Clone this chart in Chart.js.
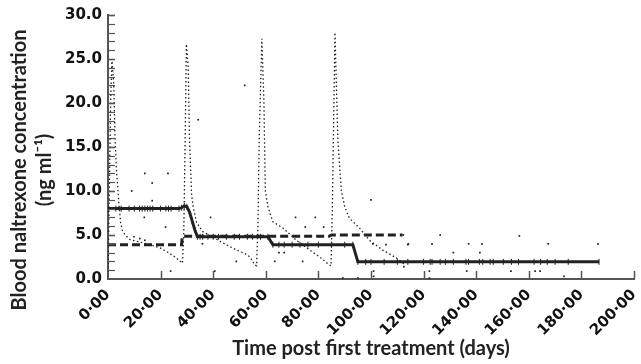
<!DOCTYPE html>
<html>
<head>
<meta charset="utf-8">
<style>
  html, body { margin: 0; padding: 0; background: #fff; }
  #wrap { width: 641px; height: 364px; }
</style>
</head>
<body>
<div id="wrap"><canvas id="chart"></canvas></div>
<script src="https://cdn.jsdelivr.net/npm/chart.js@4/dist/chart.umd.min.js"></script>
<script>
'use strict';

/* ── Data ── */

// solid line (fitted concentration)
const solidDays = [0, 3, 5, 8, 10, 12, 13, 14, 15, 16, 17, 20, 22, 23, 24, 27,
  28, 29, 30, 31, 32, 33, 34,
  35, 36, 38, 40, 42, 45, 48, 50, 53, 55, 58, 60.8,
  62.7, 65, 67, 70, 73, 76, 80, 85, 90, 93.1,
  95, 98, 100, 105, 110, 114, 120, 122.5, 123.2, 126.3, 128.3, 131.3, 136.1, 137.1,
  141.2, 142.5, 145.3, 146.5, 150.3, 153.4, 156.1, 162, 164.5, 167, 170, 175, 186.7];
const solidConc = [8.0, 8.0, 8.0, 8.0, 8.0, 8.0, 8.0, 8.0, 8.0, 8.0, 8.0, 8.0, 8.0, 8.0, 8.0, 8.0,
  8.1, 8.3, 8.2, 7.6, 6.6, 5.6, 4.8,
  4.8, 4.8, 4.8, 4.8, 4.8, 4.8, 4.8, 4.8, 4.8, 4.8, 4.8, 4.8,
  3.9, 3.9, 3.9, 3.9, 3.9, 3.9, 3.9, 3.9, 3.9, 3.9,
  1.95, 1.95, 1.95, 1.95, 1.95, 1.95, 1.95, 1.95, 1.95, 1.95, 1.95, 1.95, 1.95, 1.95,
  1.95, 1.95, 1.95, 1.95, 1.95, 1.95, 1.95, 1.95, 1.95, 1.95, 1.95, 1.95, 1.95];

// dashed line
const dashDays = [0, 28, 28.2, 84, 85, 112];
const dashConc = [3.9, 3.9, 4.85, 4.85, 5.0, 5.0];

// dotted line (simulated profile after each dose)
const simDays = [0, 0.5, 1, 1.5, 2.2, 2.7, 3.3, 3.8, 4.3, 4.8, 5.5, 6.5, 8.3, 12, 16, 20, 23, 25.5, 27.5, 28.3,
  28.8, 29.3, 29.8, 30.5, 31, 31.8, 32.5, 33.7, 36, 40, 43.7, 48.8, 52, 54, 55.8, 56.5,
  57, 57.5, 58.5, 59.3, 59.8, 60.8, 62.7, 66.5, 71.6, 76.7, 80.5, 84.2, 84.8,
  85.3, 85.8, 86.3, 87.4, 88.7, 90, 91.8, 95.6, 99.4, 104.4, 109.6, 113];
const simConc = [0.8, 10, 20, 25.0, 22, 15.8, 12, 10.1, 8, 6.4, 5.5, 5.0, 4.5, 4.2, 3.9, 3.5, 3.0, 2.5, 2.0, 1.8,
  5, 15, 26.7, 24, 15.8, 9.5, 8, 6.4, 5.4, 4.7, 4.1, 3.3, 2.9, 2.5, 1.6, 1.5,
  6, 16, 27.3, 20, 10.1, 8.2, 6.5, 5.8, 4.4, 3.3, 2.5, 1.6, 1.5,
  8, 18, 28.0, 15.8, 10.1, 8.2, 6.9, 5.8, 4.4, 3.3, 2.4, 1.6];

// observed samples
const obsDays = [9, 14, 22.8, 16.8, 16.8, 13.8, 21.9, 9.9, 12.1, 14, 23.8, 35.9, 34.3, 52,
  39, 71.3, 78.8, 75, 82, 48.8, 40.6, 65, 67, 63.4, 74, 100, 100.7, 105.7, 114, 112.5,
  89.3, 95, 101, 101, 112.3, 126.3, 114.2, 123.2, 137.1, 142.2, 131.3, 141.4, 122.2, 122.2,
  136.4, 153.2, 156.4, 167.4, 186.3, 162.4, 164.3, 173.4];
const obsConc = [10.0, 12.0, 12.0, 10.9, 8.9, 7.0, 5.9, 4.8, 4.6, 4.4, 0.9, 4.0, 18.1, 22.0,
  7.0, 7.0, 7.0, 5.9, 5.9, 2.0, 0.9, 3.0, 3.0, 2.0, 2.0, 9.0, 4.0, 3.9, 3.9, 1.4,
  0.1, 0.1, 0.9, 0.3, 5.0, 5.0, 4.0, 4.0, 4.0, 4.0, 3.0, 3.0, 0.9, 0.1,
  0.9, 0.9, 4.9, 4.0, 4.0, 0.9, 0.9, 0.3];

const xTickLabels = ['0·00', '20·00', '40·00', '60·00', '80·00', '100·00',
  '120·00', '140·00', '160·00', '180·00', '200·00'];
const yTickLabels = ['0.0', '5.0', '10.0', '15.0', '20.0', '25.0', '30.0'];

const yTitle = ['Blood naltrexone concentration', '(ng ml⁻¹)'];
const xTitle = 'Time post first treatment (days)';

function pairs(xs, ys) {
  return xs.map((x, i) => ({ x, y: ys[i] }));
}

/* ── Inner ticks + y title ── */
const innerTicks = {
  id: 'innerTicks',
  afterDraw(chart) {
    const { ctx, chartArea } = chart;
    const xs = chart.scales.x, ys = chart.scales.y;
    ctx.save();
    ctx.strokeStyle = '#555';
    for (let v = 1; v <= 30; v++) {
      const py = Math.round(ys.getPixelForValue(v)) + 0.5;
      ctx.lineWidth = v % 5 === 0 ? 1.6 : 1.2;
      ctx.beginPath();
      ctx.moveTo(chartArea.left, py);
      ctx.lineTo(chartArea.left + 7, py);
      ctx.stroke();
    }
    ctx.lineWidth = 1.5;
    for (let v = 20; v <= 200; v += 20) {
      const px = Math.round(xs.getPixelForValue(v)) + 0.5;
      ctx.beginPath();
      ctx.moveTo(px, chartArea.bottom);
      ctx.lineTo(px, chartArea.bottom - 8);
      ctx.stroke();
    }

    ctx.translate(20, 170);
    ctx.rotate(-Math.PI / 2);
    ctx.fillStyle = '#222';
    ctx.font = "bold 20px Lato";
    ctx.textAlign = 'center';
    ctx.textBaseline = 'middle';
    ctx.fillText(yTitle[0], 0, 0);
    ctx.fillText(yTitle[1], 0, 25);
    ctx.restore();
  }
};

const tickFont = { family: 'DejaVu Sans', size: 15, weight: 'bold' };

new Chart(document.getElementById('chart'), {
  type: 'scatter',
  data: {
    datasets: [
      {
        data: pairs(obsDays, obsConc),
        showLine: false,
        pointStyle: 'rect',
        pointRadius: 1.2,
        borderWidth: 0,
        backgroundColor: '#222'
      },
      {
        data: pairs(solidDays, solidConc),
        showLine: true,
        borderColor: '#222',
        borderWidth: 3,
        pointStyle: 'line',
        rotation: 90,
        pointRadius: 3,
        pointBorderWidth: 1,
        pointBorderColor: '#222'
      },
      {
        data: pairs(dashDays, dashConc),
        showLine: true,
        borderColor: '#222',
        borderWidth: 3,
        borderDash: [8, 4],
        pointRadius: 0
      },
      {
        data: pairs(simDays, simConc),
        showLine: true,
        borderColor: '#222',
        borderWidth: 1.3,
        borderDash: [1.5, 2.5],
        pointRadius: 0
      }
    ]
  },
  options: {
    responsive: true,
    maintainAspectRatio: false,
    animation: false,
    layout: { padding: { top: 15, right: 7, left: 0, bottom: 0 } },
    plugins: { legend: { display: false }, tooltip: { enabled: false } },
    scales: {
      x: {
        type: 'linear',
        min: 0, max: 200,
        grid: { display: false, drawTicks: false },
        border: { display: true, color: '#555', width: 2 },
        ticks: {
          stepSize: 20,
          autoSkip: false,
          maxRotation: 45, minRotation: 45,
          padding: 7,
          color: '#111',
          font: tickFont,
          callback: (v, i) => xTickLabels[i]
        },
        title: {
          display: true,
          text: xTitle,
          color: '#222',
          font: { family: 'Lato', size: 20, weight: 'bold' },
          padding: { top: 0, bottom: 3 }
        },
        afterFit: (s) => { s.height = 85; s.paddingLeft = 0; s.paddingRight = 0; }
      },
      y: {
        type: 'linear',
        min: 0, max: 30,
        grid: { display: false, drawTicks: false },
        border: { display: true, color: '#555', width: 2 },
        ticks: {
          stepSize: 5,
          padding: 6,
          color: '#111',
          font: tickFont,
          callback: (v, i) => yTickLabels[i]
        },
        afterFit: (s) => { s.width = 108; }
      }
    }
  },
  plugins: [innerTicks]
});
</script>
</body>
</html>
